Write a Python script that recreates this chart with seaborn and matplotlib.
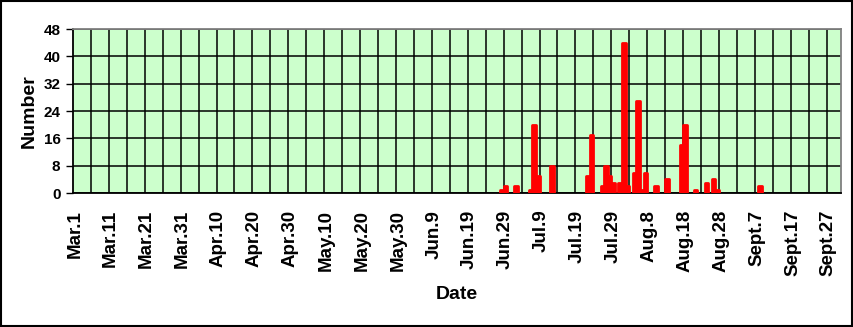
import matplotlib
matplotlib.use("Agg")
import matplotlib.pyplot as plt
import seaborn as sns
import pandas as pd
import numpy as np
from matplotlib.patches import Rectangle

sns.set_theme(style="white")
plt.rcParams['font.family'] = ['Liberation Sans', 'DejaVu Sans']

# ---- data -------------------------------------------------------------
season_start = "03-01"          # first category on the axis (Mar.1)
season_days = 214               # Mar.1 .. Sept.30
dates = ["06-28", "06-29", "07-02", "07-06", "07-07", "07-08", "07-12",
         "07-22", "07-23", "07-26", "07-27", "07-28", "07-29",
         "07-31", "08-01", "08-02", "08-04", "08-05", "08-06", "08-07",
         "08-10", "08-13", "08-17", "08-18", "08-21", "08-24", "08-26",
         "08-27", "09-08"]
counts = [1, 2, 2, 1, 20, 5, 8,
          5, 17, 2, 8, 5, 3,
          3, 44, 2, 6, 27, 1, 6,
          2, 4, 14, 20, 1, 3, 4,
          1, 2]
tick_labels = ["Mar.1", "Mar.11", "Mar.21", "Mar.31", "Apr.10", "Apr.20",
               "Apr.30", "May.10", "May.20", "May.30", "Jun.9", "Jun.19",
               "Jun.29", "Jul.9", "Jul.19", "Jul.29", "Aug.8", "Aug.18",
               "Aug.28", "Sept.7", "Sept.17", "Sept.27"]
y_ticks = [0, 8, 16, 24, 32, 40, 48]

# ---- build frame ------------------------------------------------------
base = pd.Timestamp("2001-" + season_start)
day = [(pd.Timestamp("2001-" + d) - base).days for d in dates]
df = pd.DataFrame({"day": day, "count": counts})

fig = plt.figure(figsize=(8.54, 3.27), dpi=100)
ax = fig.add_axes([73/854, 1-193/327, (841-73)/854, (193-29)/327])
ax.set_facecolor("#CCFFCC")

sns.barplot(data=df, x="day", y="count", native_scale=True, width=1.0,
            color="#FF0000", saturation=1, edgecolor="#FF0000",
            linewidth=2.0, errorbar=None, ax=ax, zorder=3)
for p in ax.patches:
    p.set_joinstyle("round")

ax.set_xlim(-0.5, season_days - 0.5)
ax.set_ylim(0, 48)

# ticks & grid
ax.set_xticks(np.arange(0, season_days, 10))
ax.set_xticklabels(tick_labels, rotation=90, fontsize=13.5, fontweight="bold")
ax.set_xticks(np.arange(4.5, season_days - 1, 5), minor=True)
ax.set_yticks(y_ticks)
ax.set_yticklabels([str(v) for v in y_ticks], fontsize=11, fontweight="bold")
ax.tick_params(axis="x", which="both", length=0, pad=12, colors="black")
ax.tick_params(axis="y", which="major", length=5, width=1, direction="out",
               pad=4, colors="black", left=True)
ax.grid(False)
ax.grid(True, axis="x", which="minor", color="black", linewidth=1.1, zorder=1)
ax.grid(True, axis="y", which="major", color="black", linewidth=1.1, zorder=1)
ax.set_axisbelow(True)

for s in ["left", "bottom"]:
    ax.spines[s].set_color("black")
    ax.spines[s].set_linewidth(1.3)
for s in ["top", "right"]:
    ax.spines[s].set_color("#808080")
    ax.spines[s].set_linewidth(1.3)
    ax.spines[s].set_visible(True)

ax.set_ylabel("Number", fontsize=14, fontweight="bold", color="black")
ax.yaxis.set_label_coords((38-73)/768, 0.5)
ax.set_xlabel("Date", fontsize=14, fontweight="bold", color="black")
ax.xaxis.set_label_coords((457-73)/768, -(286-193)/164)

fig.patches.append(Rectangle((0.001, 0.002), 0.997, 0.995, transform=fig.transFigure,
                             fill=False, edgecolor="black", linewidth=1.5))

fig.savefig("out.png", dpi=100, facecolor="white")
